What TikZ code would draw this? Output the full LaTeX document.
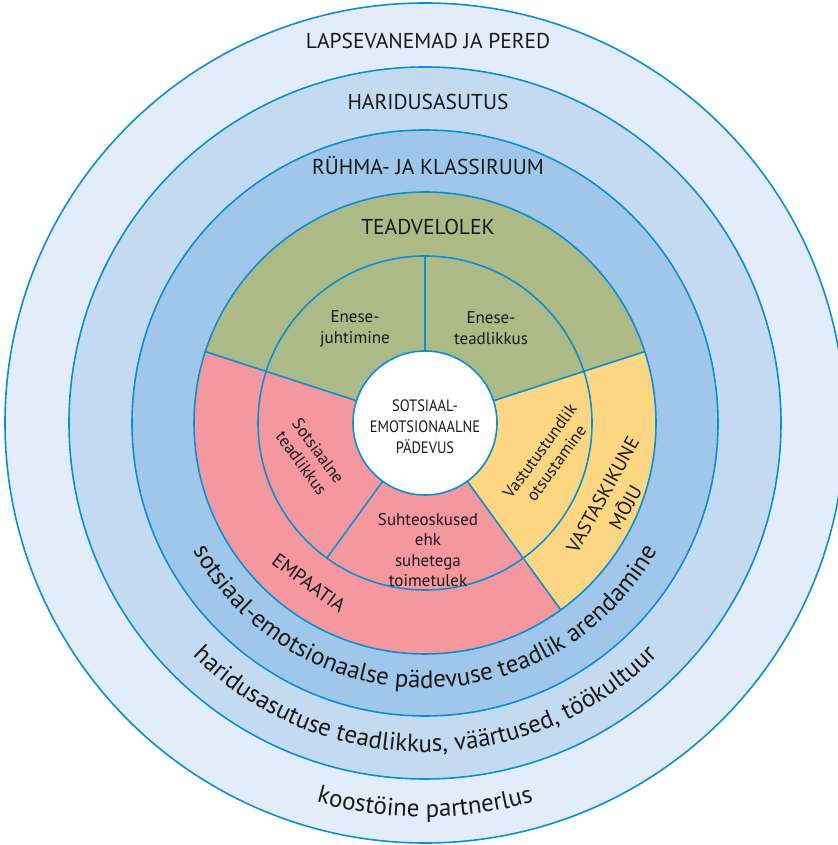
\documentclass[tikz,border=0pt]{standalone}
\usepackage{fontspec}
\setmainfont{PT Sans}
\usetikzlibrary{decorations.text}
\definecolor{ringA}{HTML}{E3ECF9}
\definecolor{ringB}{HTML}{C3DAF1}
\definecolor{ringC}{HTML}{A0C7E9}
\definecolor{segG}{HTML}{ABBA87}
\definecolor{segP}{HTML}{F4979F}
\definecolor{segY}{HTML}{FDD684}
\definecolor{lineB}{HTML}{0A90D0}
\definecolor{txt}{HTML}{1A1A1A}
\tikzset{
  border/.style={draw=lineB, line width=1.6pt},
  biglabel/.style={font=\fontsize{21.5}{25}\selectfont, text=txt, inner sep=0pt},
  smalllabel/.style={font=\fontsize{17}{20.5}\selectfont, text=txt, inner sep=0pt, align=center},
  corelabel/.style={font=\fontsize{16.5}{21}\selectfont, text=txt, inner sep=0pt, align=center, xscale=0.88},
  rotlabel/.style={font=\fontsize{19.5}{26}\selectfont, text=txt, inner sep=0pt, align=center},
}
\begin{document}
\begin{tikzpicture}[x=1pt,y=1pt]
\useasboundingbox (0,0) rectangle (837,845);
\begin{scope}[shift={(425,422)}]
  % rings
  \fill[ringA] (0,0) circle[radius=420pt];
  \draw[border] (0,0) circle[radius=420pt];
  \fill[ringB] (0,0) circle[radius=356pt];
  \draw[border] (0,0) circle[radius=356pt];
  \fill[ringC] (0,0) circle[radius=293pt];
  \draw[border] (0,0) circle[radius=293pt];
  % sectors
  \fill[segG] (0,0) -- (18:231pt) arc[start angle=18, end angle=162, radius=231pt] -- cycle;
  \fill[segP] (0,0) -- (162:231pt) arc[start angle=162, end angle=306, radius=231pt] -- cycle;
  \fill[segY] (0,0) -- (306:231pt) arc[start angle=306, end angle=378, radius=231pt] -- cycle;
  \draw[border] (0,0) circle[radius=231pt];
  \draw[border] (0,0) circle[radius=167pt];
  \coordinate (a18i) at (18:72pt);   \coordinate (a18o) at (18:231pt);
  \coordinate (a162i) at (162:72pt); \coordinate (a162o) at (162:231pt);
  \coordinate (a306i) at (306:72pt); \coordinate (a306o) at (306:231pt);
  \coordinate (a90i) at (90:72pt);   \coordinate (a90o) at (90:167pt);
  \coordinate (a234i) at (234:72pt); \coordinate (a234o) at (234:167pt);
  \draw[border] (a18i) -- (a18o);
  \draw[border] (a162i) -- (a162o);
  \draw[border] (a306i) -- (a306o);
  \draw[border] (a90i) -- (a90o);
  \draw[border] (a234i) -- (a234o);
  \fill[white] (0,0) circle[radius=72pt];
  \draw[border] (0,0) circle[radius=72pt];

  % straight labels
  \node[biglabel, anchor=base] (parents) at (3,374) {LAPSEVANEMAD JA PERED};
  \node[biglabel, anchor=base] (school) at (3,313.5) {HARIDUSASUTUS};
  \node[biglabel, anchor=base] (room) at (3,248.4) {RÜHMA- JA KLASSIRUUM};
  \node[biglabel, anchor=base] (aware) at (3,188) {TEADVELOLEK};

  \node[smalllabel] (selfman) at (-70,94) {Enese-\\juhtimine};
  \node[smalllabel] (selfaw) at (66,95) {Enese-\\teadlikkus};
  \node[corelabel] (core) at (0,-4) {SOTSIAAL-\\EMOTSIONAALNE\\PÄDEVUS};
  \node[smalllabel] (rel) at (3,-127) {Suhteoskused\\ehk\\suhetega\\toimetulek};
  \node[smalllabel, rotate=-54] (socaw) at (-115,-34) {Sotsiaalne\\teadlikkus};
  \node[smalllabel, rotate=54] (decis) at (123,-34) {Vastutustundlik\\otsustamine};
  \node[rotlabel, rotate=61] (mutual) at (189,-78) {VASTASKIKUNE\\MÕJU};
  \node[rotlabel, rotate=-36] (empathy) at (-116,-160) {EMPAATIA};

  % curved labels
  \path[decorate, decoration={text along path, text align=center,
      text={|\fontsize{25}{29}\selectfont\color{txt}|sotsiaal-emotsionaalse pädevuse teadlik arendamine}}]
    (180:265pt) arc[start angle=180, end angle=360, radius=265pt];
  \path[decorate, decoration={text along path, text align=center,
      text={|\fontsize{25}{29}\selectfont\color{txt}|haridusasutuse teadlikkus{,} väärtused{,} töökultuur}}]
    (180:329pt) arc[start angle=180, end angle=360, radius=329pt];
  \path[decorate, decoration={text along path, text align=center,
      text={|\fontsize{25}{29}\selectfont\color{txt}|koostöine partnerlus}}]
    (180:394pt) arc[start angle=180, end angle=360, radius=394pt];
\end{scope}
\end{tikzpicture}
\end{document}
